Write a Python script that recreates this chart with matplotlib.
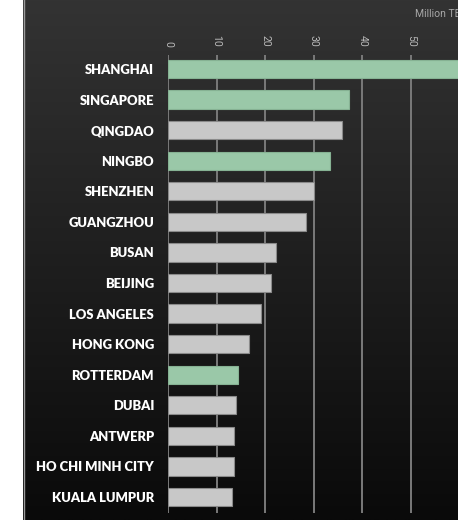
import numpy as np
import matplotlib
matplotlib.use("Agg")
import matplotlib.pyplot as plt

ports = ["SHANGHAI", "SINGAPORE", "QINGDAO", "NINGBO", "SHENZHEN", "GUANGZHOU",
         "BUSAN", "BEIJING", "LOS ANGELES", "HONG KONG", "ROTTERDAM", "DUBAI",
         "ANTWERP", "HO CHI MINH CITY", "KUALA LUMPUR"]
teu = [62.0, 37.3, 35.7, 33.4, 30.1, 28.3, 22.2, 21.1, 19.1, 16.7, 14.5, 14.0,
       13.6, 13.6, 13.2]
highlight = [True, True, False, True, False, False, False, False, False, False,
             True, False, False, False, False]
x_ticks = [0, 10, 20, 30, 40, 50, 60]
unit_label = "Million TEU"

W, H = 458, 520
fig = plt.figure(figsize=(W / 100, H / 100), dpi=100)
fig.patch.set_facecolor("white")

# dark gradient panel
bg = fig.add_axes([23 / W, 0, (W - 23) / W, 1])
grad = np.linspace(0, 1, 256).reshape(-1, 1)
top = np.array([0x33, 0x33, 0x33]) / 255
bot = np.array([0x0a, 0x0a, 0x0a]) / 255
img = top[None, None, :] * (1 - grad[..., None]) + bot[None, None, :] * grad[..., None]
bg.imshow(img, aspect="auto", extent=[0, 1, 0, 1], origin="upper")
bg.set_axis_off()
fig.add_artist(plt.Line2D([23.5 / W, 23.5 / W], [0, 1], color="#9a9a9a", lw=1.0))

# bar chart axes; scale 4.86 px per unit, zero at x=168 px
x0, px_per = 168, 4.86
xmax = 80
ax_top, ax_bot = 55, 513
ax = fig.add_axes([x0 / W, 1 - ax_bot / H, xmax * px_per / W, (ax_bot - ax_top) / H])
ax.set_facecolor("none")

step = 30.57
first = 69
y0 = -(first - ax_top) / step
y1 = (ax_bot - first) / step
ypos = np.arange(len(ports))
colors = ["#9ac8a8" if h else "#c8c8c8" for h in highlight]
edges = ["#86b293" if h else "#8a8a8a" for h in highlight]
ax.barh(ypos, teu, height=0.6, color=colors, edgecolor=edges, linewidth=0.8, zorder=3)

ax.set_xlim(0, xmax)
ax.set_ylim(y1, y0)
ax.set_xticks(x_ticks)
ax.xaxis.tick_top()
ax.tick_params(axis="x", length=0, pad=6, labelsize=7.5, labelcolor="#b8b8b8",
               labelrotation=-90)
for lbl in ax.get_xticklabels():
    lbl.set_fontfamily("Roboto")
for gx in [70, 80]:
    ax.axvline(gx, color="#7a7a7a", lw=1.4, zorder=1)
ax.grid(axis="x", color="#7a7a7a", lw=1.4, zorder=1)

ax.set_yticks(ypos)
ax.set_yticklabels(ports, fontfamily="Lato", fontweight="heavy", fontsize=9.4,
                   color="white")
ax.tick_params(axis="y", length=0, pad=10)
for s in ax.spines.values():
    s.set_visible(False)

fig.text(415 / W, 1 - 14 / H, unit_label, fontsize=7.5, color="#a8a8a8",
         family="Roboto", ha="left", va="center")

fig.savefig("out.png", dpi=100, facecolor=fig.get_facecolor())
